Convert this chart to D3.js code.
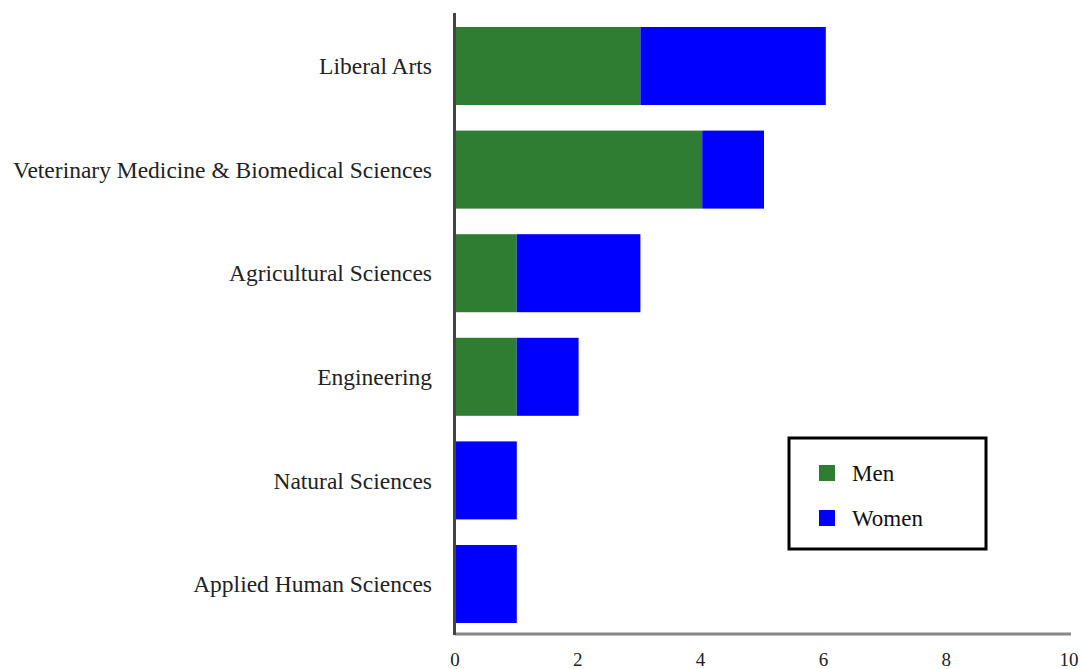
<!DOCTYPE html>
<html><head><meta charset="utf-8">
<script src="https://cdn.jsdelivr.net/npm/d3@7"></script>
<style>body{margin:0;background:#fff}svg{display:block}text{font-family:"Liberation Serif","DejaVu Serif",serif}</style>
</head><body><svg id="c" width="1083" height="669"></svg>
<script>
const categories = ["Liberal Arts","Veterinary Medicine & Biomedical Sciences","Agricultural Sciences","Engineering","Natural Sciences","Applied Human Sciences"];
const men = [3,4,1,1,0,0];
const women = [3,1,2,1,1,1];
const seriesNames = ["Men","Women"];
const colors = ["#2E7D32","#0000FF"];
const xTicks = [0,2,4,6,8,10];

(function(){
const svg = d3.select("#c");
const mL = 455, mB = 634;
const x = d3.scaleLinear().domain([0,10]).range([mL,1073]);
const y = d3.scaleBand().domain(categories).range([27, 623]).paddingInner(0.247).paddingOuter(0);

const data = categories.map((c,i)=>({cat:c, Men:men[i], Women:women[i]}));
const stack = d3.stack().keys(seriesNames)(data);
svg.append("g").selectAll("g").data(stack).join("g").attr("fill",(d,i)=>colors[i])
  .selectAll("rect").data(d=>d).join("rect")
  .attr("x",d=>x(d[0])).attr("width",d=>x(d[1])-x(d[0]))
  .attr("y",d=>y(d.data.cat)).attr("height",y.bandwidth());

svg.append("line").attr("x1",mL).attr("x2",1071).attr("y1",mB).attr("y2",mB).attr("stroke","#888").attr("stroke-width",3);
svg.append("g").selectAll("text").data(xTicks).join("text")
  .attr("x",d=>x(d)-(d/10)*4).attr("y",666).attr("text-anchor","middle").attr("font-size",19).attr("fill","#222").text(d=>d);
svg.append("line").attr("x1",mL-0.5).attr("x2",mL-0.5).attr("y1",13).attr("y2",mB+1).attr("stroke","#444").attr("stroke-width",3);
svg.append("g").selectAll("text").data(categories).join("text")
  .attr("x",432).attr("y",d=>y(d)+y.bandwidth()/2).attr("dy","0.35em").attr("text-anchor","end")
  .attr("font-size",23.5).attr("fill","#222").text(d=>d);

const lg = svg.append("g");
lg.append("rect").attr("x",789).attr("y",438).attr("width",197).attr("height",111).attr("fill","#fff").attr("stroke","#000").attr("stroke-width",3);
seriesNames.forEach((s,i)=>{
  lg.append("rect").attr("x",819).attr("y",465+i*45).attr("width",16).attr("height",16).attr("fill",colors[i]);
  lg.append("text").attr("x",852).attr("y",481+i*45).attr("font-size",23).attr("fill","#111").text(s);
});
})();
</script></body></html>
